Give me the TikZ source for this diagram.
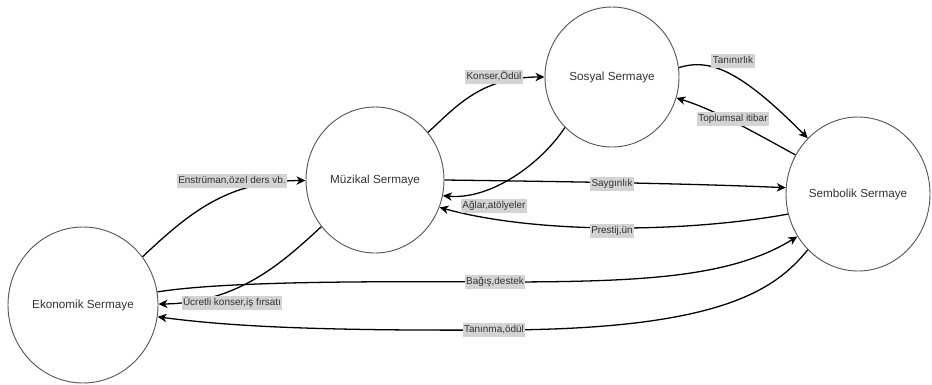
\documentclass[tikz,border=0pt]{standalone}
\usepackage{fontspec}
\setmainfont{Liberation Sans}
\usetikzlibrary{shapes.geometric}
\usetikzlibrary{arrows.meta}
\usetikzlibrary{backgrounds}
\definecolor{labelgray}{RGB}{211,211,211}
\definecolor{textgray}{RGB}{51,51,51}

\begin{document}
\begin{tikzpicture}[x=0.03cm,y=-0.03cm,
  capital/.style={ellipse, draw=black!65, line width=0.8pt, fill=white,
    inner sep=0pt, text=textgray, font=\fontsize{10}{12}\selectfont},
  tag/.style={fill=labelgray, inner xsep=1.2pt, inner ysep=1.5pt, text=textgray,
    text height=0.72em, text depth=0.22em, font=\fontsize{8.5}{10}\selectfont},
  link/.style={line width=1.1pt, -{Stealth[length=2.7mm,width=2.5mm,inset=0.8mm]}}]

  \useasboundingbox (0,0) rectangle (932,384);

  % the four kinds of capital
  \node[capital, minimum width=4.5cm,  minimum height=4.68cm] (eko) at (83,305)  {Ekonomik Sermaye};
  \node[capital, minimum width=4.14cm, minimum height=4.38cm] (muz) at (375,180) {Müzikal Sermaye};
  \node[capital, minimum width=4.02cm, minimum height=4.2cm]  (sos) at (612,77)  {Sosyal Sermaye};
  \node[capital, minimum width=4.32cm, minimum height=4.62cm] (sem) at (858,194) {Sembolik Sermaye};

  % labels of the connectors
  \node[tag] (enstr)   at (232,181) {Enstrüman,özel ders vb.};
  \node[tag] (konser)  at (494,77)  {Konser,Ödül};
  \node[tag] (tanin)   at (733,61)  {Tanınırlık};
  \node[tag] (itibar)  at (733,119) {Toplumsal itibar};
  \node[tag] (sayg)    at (612,184) {Saygınlık};
  \node[tag] (aglar)   at (494,206) {Ağlar,atölyeler};
  \node[tag] (prestij) at (612,231) {Prestij,ün};
  \node[tag] (bagis)   at (495,282) {Bağış,destek};
  \node[tag] (ucret)   at (232,303) {Ücretli konser,iş fırsatı};
  \node[tag] (taninma) at (494,330) {Tanınma,ödül};

  % connectors, behind the labels
  \begin{scope}[on background layer]
    \draw[link] (eko.39) .. controls (190,212) and (228,181) .. (muz);
    \draw[link] (muz.42) .. controls (455,108) and (480,77) .. (sos);
    \draw[link] (sos.8) .. controls (710,58) and (740,70) .. (sem.132);
    \draw[link] (sem.148) .. controls (750,130) and (715,110) .. (sos.-18);
    \draw[link] (muz.0) .. controls (600,182) and (700,184) .. (sem.175);
    \draw[link] (sos.227) .. controls (540,165) and (490,200) .. (muz.-13);
    \draw[link] (sem.196) .. controls (690,232) and (540,235) .. (muz.-23);
    \draw[link] (eko.10) .. controls (220,282) and (350,281) .. (bagis.center)
      .. controls (640,282) and (730,278) .. (sem.215);
    \draw[link] (muz.221) .. controls (285,260) and (240,303) .. (eko);
    \draw[link] (sem.228) .. controls (775,290) and (720,330) .. (taninma.center)
      .. controls (300,331) and (220,325) .. (eko.-9);
  \end{scope}

\end{tikzpicture}
\end{document}
